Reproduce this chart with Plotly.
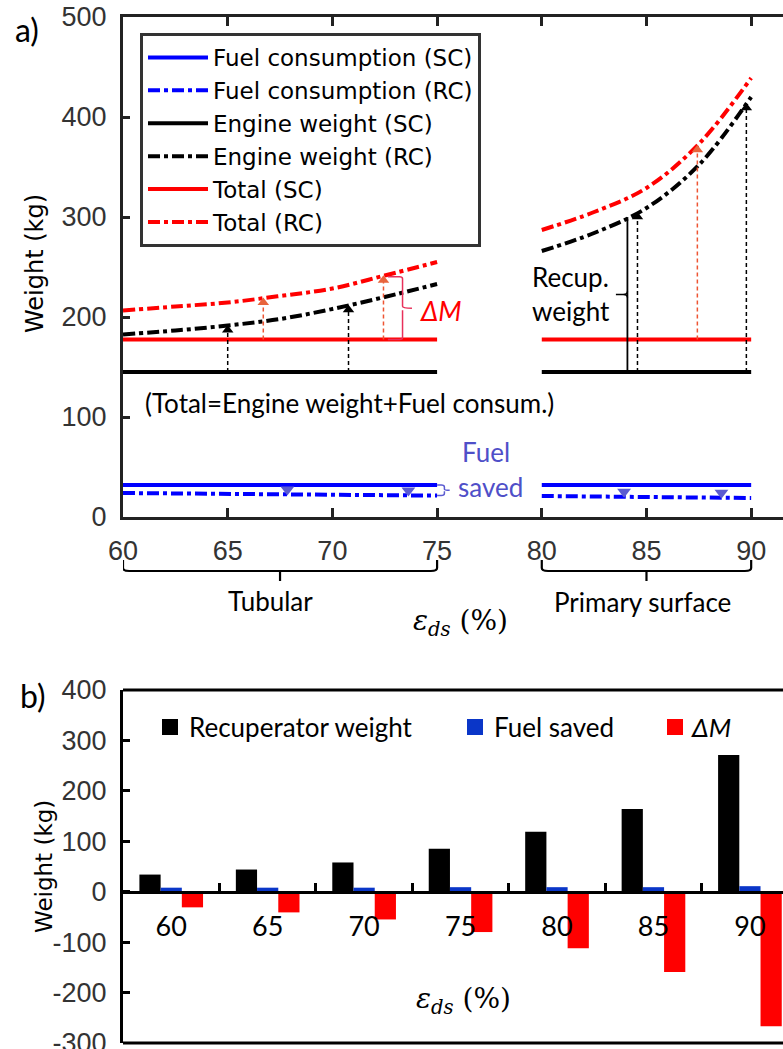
import numpy as np
import plotly.graph_objects as go

# ---------------- data: panel a) ----------------
eps_tub = [60, 62.5, 65, 67.5, 70, 72.5, 75]          # tubular recuperator
eps_ps = [80, 82.5, 85, 87.5, 90]                      # primary surface recuperator
fuel_sc_tub = [32, 32, 32, 32, 32, 32, 32]
fuel_sc_ps = [32, 32, 32, 32, 32]
fuel_rc_tub = [24, 23.5, 23, 22.5, 22, 21.7, 21.4]
fuel_rc_ps = [21, 20.5, 20, 19.5, 19]
engine_sc_tub = [145, 145, 145, 145, 145, 145, 145]
engine_sc_ps = [145, 145, 145, 145, 145]
engine_rc_tub = [182.5, 186.5, 191.5, 198, 208, 220, 233]
engine_rc_ps = [266, 284, 309, 352, 420]
total_sc_tub = [177.5, 177.5, 177.5, 177.5, 177.5, 177.5, 177.5]
total_sc_ps = [177.5, 177.5, 177.5, 177.5, 177.5]
total_rc_tub = [206.5, 210.5, 214.5, 221, 228.5, 241.5, 255]
total_rc_ps = [287, 305, 329, 373, 439]
x_ticks_a = [60, 65, 70, 75, 80, 85, 90]
y_ticks_a = [0, 100, 200, 300, 400, 500]

# annotation arrow positions (x, % effectiveness)
engine_arrow_x = [65, 70.77, 84.57, 89.77]
total_arrow_x = [66.7, 72.44, 87.43]
fuel_arrow_x = [67.85, 73.63, 83.93, 88.58]
recup_line_x = 84.09

# ---------------- data: panel b) ----------------
cats = ['60', '65', '70', '75', '80', '85', '90']
recup_weight = [34, 44, 58, 85, 119, 164, 271]
fuel_saved = [8, 8, 8, 9, 9, 9, 11]
delta_m = [-31, -41, -55, -80, -112, -159, -267]
y_ticks_b = [-300, -200, -100, 0, 100, 200, 300, 400]
y_ticktext_b = ['-300', '-200', '-100', '0', '100', '200', '300', '400']

W, H = 783, 1049
def px(x):
    return x / W
def py(y):
    return 1 - y / H

X0 = px(123)
YA = [py(517), py(17)]
YB = [py(1043), py(690)]

def seg(a, b):
    return list(a) + [None] + list(b)

def at(x, tub, ps):
    if x <= 75:
        return float(np.interp(x, eps_tub, tub))
    return float(np.interp(x, eps_ps, ps))

X = seg(eps_tub, eps_ps)
DASHDOT = '12px,4px,4px,4px'
ARIAL = 'Liberation Sans, Arial, sans-serif'
CAL = 'Lato, Carlito, Calibri, sans-serif'

fig = go.Figure()
series = [
    ('Fuel consumption (SC)', seg(fuel_sc_tub, fuel_sc_ps), '#0000FF', 'solid', 'linear'),
    ('Fuel consumption (RC)', seg(fuel_rc_tub, fuel_rc_ps), '#0000FF', DASHDOT, 'linear'),
    ('Engine weight (SC)', seg(engine_sc_tub, engine_sc_ps), '#000000', 'solid', 'linear'),
    ('Engine weight (RC)', seg(engine_rc_tub, engine_rc_ps), '#000000', DASHDOT, 'spline'),
    ('Total (SC)', seg(total_sc_tub, total_sc_ps), '#FF0000', 'solid', 'linear'),
    ('Total (RC)', seg(total_rc_tub, total_rc_ps), '#FF0000', DASHDOT, 'spline'),
]
for name, ys, col, dash, shape in series:
    fig.add_trace(go.Scatter(x=X, y=ys, name=name, mode='lines',
                             line=dict(color=col, width=4, dash=dash, shape=shape),
                             connectgaps=False, xaxis='x', yaxis='y'))

# dashed arrows: engine weight SC -> RC (black)
for xa in engine_arrow_x:
    y0 = at(xa, engine_sc_tub, engine_sc_ps)
    y1 = at(xa, engine_rc_tub, engine_rc_ps)
    fig.add_trace(go.Scatter(x=[xa, xa], y=[y0, y1 - 6], mode='lines', showlegend=False,
                             line=dict(color='black', width=1.5, dash='4px,3px'), hoverinfo='skip'))
    fig.add_trace(go.Scatter(x=[xa], y=[y1 - 4.5], mode='markers', showlegend=False,
                             marker=dict(symbol='triangle-up', size=10, color='black'), hoverinfo='skip'))
# dashed arrows: total SC -> RC (orange)
for xa in total_arrow_x:
    y0 = at(xa, total_sc_tub, total_sc_ps)
    y1 = at(xa, total_rc_tub, total_rc_ps)
    fig.add_trace(go.Scatter(x=[xa, xa], y=[y0, y1 - 6], mode='lines', showlegend=False,
                             line=dict(color='#EE5533', width=1.5, dash='4px,3px'), hoverinfo='skip'))
    fig.add_trace(go.Scatter(x=[xa], y=[y1 - 4.5], mode='markers', showlegend=False,
                             marker=dict(symbol='triangle-up', size=10, color='#E8643C'), hoverinfo='skip'))
# fuel saved arrowheads
for xa in fuel_arrow_x:
    y1 = at(xa, fuel_rc_tub, fuel_rc_ps)
    fig.add_trace(go.Scatter(x=[xa], y=[y1 + 5], mode='markers', showlegend=False,
                             marker=dict(symbol='triangle-down', size=12, color='#5B5BD0'), hoverinfo='skip'))
# recuperator weight solid line
yr0 = at(recup_line_x, engine_sc_tub, engine_sc_ps)
yr1 = at(recup_line_x, engine_rc_tub, engine_rc_ps)
fig.add_trace(go.Scatter(x=[recup_line_x, recup_line_x], y=[yr0, yr1], mode='lines', showlegend=False,
                         line=dict(color='black', width=1.8), hoverinfo='skip'))

# ---------------- panel b bars ----------------
fig.add_trace(go.Bar(x=cats, y=recup_weight, name='Recuperator weight', marker=dict(color='black', line=dict(width=0)),
                     xaxis='x2', yaxis='y2', showlegend=False))
fig.add_trace(go.Bar(x=cats, y=fuel_saved, name='Fuel saved', marker=dict(color='#0A36C8', line=dict(width=0)),
                     xaxis='x2', yaxis='y2', showlegend=False))
fig.add_trace(go.Bar(x=cats, y=delta_m, name='ΔM', marker=dict(color='#FF0000', line=dict(width=0)),
                     xaxis='x2', yaxis='y2', showlegend=False))

shapes = []
annotations = []

def note(x, y, text, size=26, color='black', family=CAL, xanchor='center', angle=0):
    annotations.append(dict(x=px(x), y=py(y), xref='paper', yref='paper', text=text, showarrow=False,
                            xanchor=xanchor, yanchor='middle', textangle=angle,
                            font=dict(family=family, size=size, color=color)))

# ΔM brace (red)
ybt = at(72.44, total_rc_tub, total_rc_ps) - 1
ybb = at(72.44, total_sc_tub, total_sc_ps)
ybm = (ybt + ybb) / 2
shapes.append(dict(type='path', xref='x', yref='y',
                   path=f'M 72.65,{ybt} L 73.2,{ybt} Q 73.35,{ybt} 73.35,{ybt-2} L 73.35,{ybm+2} '
                        f'Q 73.35,{ybm} 73.8,{ybm} M 73.35,{ybm-2} L 73.35,{ybb+2} Q 73.35,{ybb} 73.2,{ybb} L 72.65,{ybb}',
                   line=dict(color='#E8305A', width=1.5)))
note(441, 310, '<i>ΔM</i>', size=27, color='#FF0000')
# recuperator brace
yrm = (yr0 + yr1) / 2
shapes.append(dict(type='path', xref='x', yref='y',
                   path=f'M {recup_line_x},{yrm+3} Q {recup_line_x},{yrm} {recup_line_x-0.2},{yrm} L {recup_line_x-0.55},{yrm} '
                        f'M {recup_line_x-0.2},{yrm} Q {recup_line_x},{yrm} {recup_line_x},{yrm-3}',
                   line=dict(color='black', width=1.5)))
note(530, 277, 'Recup.', xanchor='left')
note(530, 311, 'weight', xanchor='left')
# fuel saved brace (blue)
yft = at(75, fuel_sc_tub, fuel_sc_ps)
yfb = at(75, fuel_rc_tub, fuel_rc_ps)
yfm = (yft + yfb) / 2
shapes.append(dict(type='path', xref='x', yref='y',
                   path=f'M 75,{yft} L 75.2,{yft} Q 75.35,{yft} 75.35,{yft-2} L 75.35,{yfm+1} Q 75.35,{yfm} 75.6,{yfm} '
                        f'M 75.35,{yfm-1} L 75.35,{yfb+2} Q 75.35,{yfb} 75.2,{yfb} L 75,{yfb}',
                   line=dict(color='#5B5BD0', width=1.5)))
note(486, 452, 'Fuel', color='#4F4FC8')
note(490, 487, 'saved', color='#4F4FC8')
note(143, 403, '(Total=Engine weight+Fuel consum.)', xanchor='left')

# brackets below panel a
for (xl, xr) in [(60, 75), (80, 90)]:
    xm = (xl + xr) / 2
    shapes.append(dict(type='path', xref='x', yref='paper',
                       path=f'M {xl},{py(560)} L {xl},{py(568)} Q {xl},{py(571)} {xl+0.3},{py(571)} '
                            f'L {xr-0.3},{py(571)} Q {xr},{py(571)} {xr},{py(568)} L {xr},{py(560)} '
                            f'M {xm},{py(571)} L {xm},{py(581)}',
                       line=dict(color='black', width=2.2)))
note(270, 601, 'Tubular')
note(642, 602, 'Primary surface')
EPS = '<i>ε</i><sub><i>ds</i></sub> (%)'
note(460, 622, EPS, size=28, family='DejaVu Serif, serif')
note(463, 1000, EPS, size=28, family='DejaVu Serif, serif')

# axis titles & panel labels
note(35, 264, 'Weight (kg)', size=24, family='DejaVu Sans, sans-serif', angle=-90)
note(44, 867, 'Weight (kg)', size=23, family='DejaVu Sans, sans-serif', angle=-90)
note(27, 29, 'a)', size=32)
note(33, 695, 'b)', size=32)

# panel b legend (custom)
for (x0, col, label, tx) in [(162, 'black', 'Recuperator weight', 187), (467, '#0A36C8', 'Fuel saved', 492),
                             (667, '#FF0000', '<i>ΔM</i>', 689)]:
    shapes.append(dict(type='rect', xref='paper', yref='paper', x0=px(x0), x1=px(x0 + 16), y0=py(735), y1=py(719),
                       fillcolor=col, line=dict(width=0)))
    note(tx, 727, label, xanchor='left')

# panel b box lines
for yy in (0, 1):
    shapes.append(dict(type='line', xref='x2 domain', yref='y2 domain', x0=0, x1=1, y0=yy, y1=yy,
                       line=dict(color='black', width=3)))

zero_pos = YB[0] + (0 - (-300)) / 700 * (YB[1] - YB[0])

tickfont = dict(family=ARIAL, size=27, color='#333333')
fig.update_layout(
    width=W, height=H, margin=dict(l=0, r=0, t=0, b=0, pad=0, autoexpand=False),
    paper_bgcolor='white', plot_bgcolor='white',
    barmode='group', bargap=0.34, bargroupgap=0,
    xaxis=dict(domain=[X0, 1], range=[60, 91.52], tickvals=x_ticks_a, ticks='inside', ticklen=9, tickwidth=3,
               tickcolor='#222', showline=True, linewidth=3, linecolor='#222', mirror='ticks', showgrid=False,
               zeroline=False, tickfont=tickfont, ticklabelstandoff=8, anchor='y', automargin=False),
    yaxis=dict(domain=YA, range=[0, 500], tickvals=y_ticks_a, ticks='inside', ticklen=7, tickwidth=3,
               tickcolor='#222', showline=True, linewidth=3, linecolor='#222', mirror=False, showgrid=False,
               zeroline=False, tickfont=tickfont, ticklabelstandoff=8, anchor='x', automargin=False,
               ticklabeloverflow='allow'),
    xaxis2=dict(domain=[X0, 1], range=[-0.5, 6.343], type='category', anchor='free', position=zero_pos,
                ticks='inside', tickson='boundaries', ticklen=8, tickwidth=3, tickcolor='black',
                showline=True, linewidth=3, linecolor='black', showgrid=False, zeroline=False,
                tickfont=dict(family=CAL, size=27, color='black'), ticklabelstandoff=10, automargin=False),
    yaxis2=dict(domain=YB, range=[-300, 400], tickvals=y_ticks_b, ticktext=y_ticktext_b, ticks='inside',
                ticklen=7, tickwidth=3, tickcolor='black', showline=True, linewidth=3, linecolor='black',
                showgrid=False, zeroline=False, tickfont=tickfont, ticklabelstandoff=8, anchor='x2',
                automargin=False, ticklabeloverflow='allow'),
    legend=dict(x=px(140), y=py(33), xanchor='left', yanchor='top', bordercolor='#333', borderwidth=3,
                bgcolor='white', font=dict(family='DejaVu Sans, sans-serif', size=23, color='black'),
                tracegroupgap=0, itemwidth=60),
    shapes=shapes, annotations=annotations,
)

fig.write_html('out.html')
